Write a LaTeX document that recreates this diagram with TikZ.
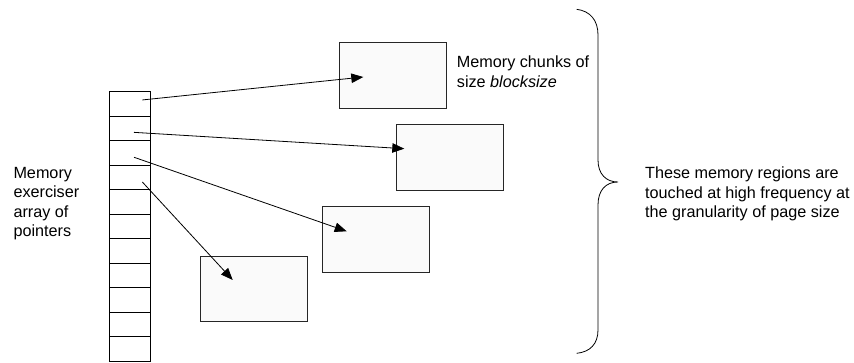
\documentclass[tikz,border=0pt]{standalone}
\usepackage{fontspec}
\setmainfont{Liberation Sans}
\usetikzlibrary{arrows.meta}
\tikzset{
  cell/.style={draw, minimum width=41.4pt, minimum height=24.5pt, inner sep=0pt, line width=0.9pt},
  chunk/.style={draw=black!85, fill=black!2, minimum width=106.7pt, minimum height=65.7pt, inner sep=0pt, anchor=north west, line width=0.9pt},
  ptr/.style={-{Triangle[length=12pt,width=9.5pt]}, line width=0.8pt},
  lbl/.style={align=left, inner sep=0pt, anchor=north west, font=\fontsize{16.2}{19.5}\selectfont}
}
\begin{document}
\begin{tikzpicture}[x=1pt,y=-1pt]
\useasboundingbox (0,0) rectangle (854,362);
% the array of pointers
\foreach \i in {1,...,11}
\node[cell] (c\i) at (130,{91.7+24.5*\i-12.25}) {};
% the memory chunks
\foreach \n/\x/\y in {1/339/42.3, 2/396.3/124.3, 3/322.3/206.3, 4/200/255.7}
\node[chunk] (chunk\n) at (\x,\y) {};
% where the pointers start and land
\coordinate (s1) at ([shift={(12.3,-4)}]c1.center);
\coordinate (s2) at ([shift={(4,3.9)}]c2.center);
\coordinate (s3) at ([shift={(4,4.3)}]c3.center);
\coordinate (s4) at ([shift={(12.3,4.5)}]c4.center);
\coordinate (t1) at ([shift={(24.3,1.4)}]chunk1.west);
\coordinate (t2) at ([shift={(8,-8.9)}]chunk2.west);
\coordinate (t3) at ([shift={(24.4,-8.3)}]chunk3.west);
\coordinate (t4) at ([shift={(32.7,-9)}]chunk4.west);
\foreach \n in {1,...,4}
\draw[ptr] (s\n) -- (t\n);
% the brace
\draw[line width=0.8pt] (576.7,9.3) .. controls (590,11) and (598,20) .. (598,35)
  -- (598,160) .. controls (598,174) and (606,182) .. (618,182)
  .. controls (606,182) and (598,190) .. (598,205)
  -- (598,330) .. controls (598,344) and (590,352) .. (576.7,353.3);
% labels
\node[lbl] (arraytxt) at (13.3,166.8) {Memory\\exerciser\\array of\\pointers};
\node[lbl] (chunktxt) at (456.7,56) {Memory chunks of\\size \textit{blocksize}};
\node[lbl] (regiontxt) at (645,166.6) {These memory regions are\\touched at high frequency at\\the granularity of page size};
\end{tikzpicture}
\end{document}
